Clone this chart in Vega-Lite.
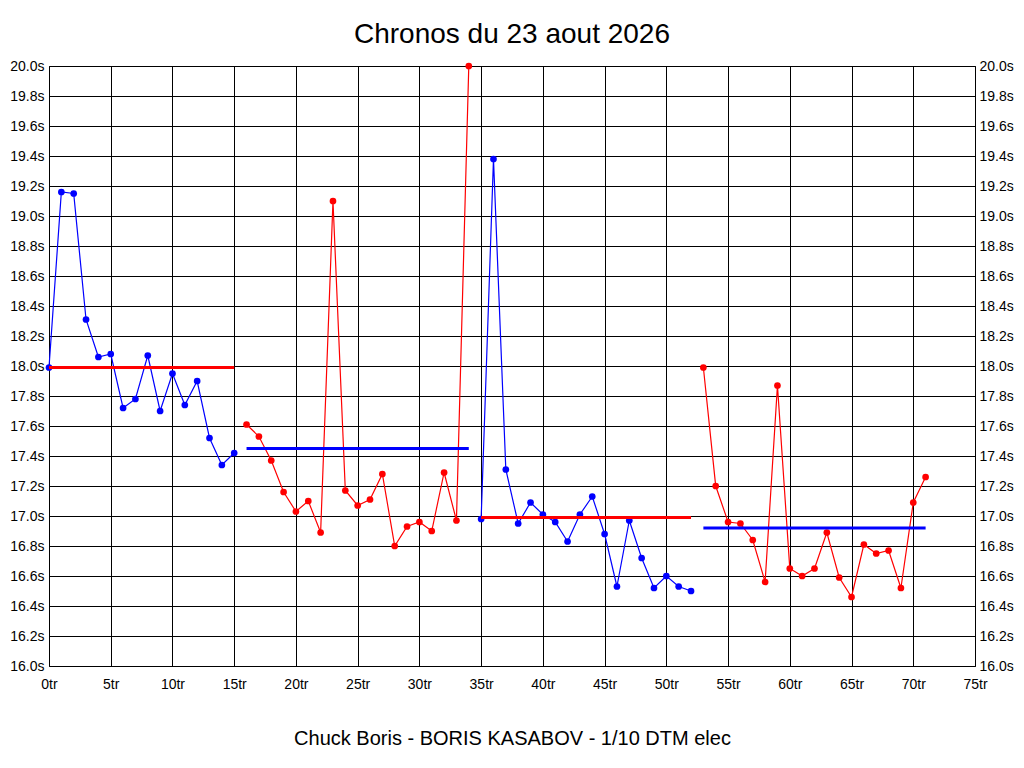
{
  "$schema": "https://vega.github.io/schema/vega-lite/v6.json",
  "description": "Chronos par tour, 4 series alternees avec la moyenne de chaque serie",
  "width": 926,
  "height": 600,
  "autosize": {"type": "none"},
  "padding": {"left": 49, "top": 66, "right": 49, "bottom": 102},
  "background": "white",
  "title": {
    "text": "Chronos du 23 aout 2026",
    "font": "Liberation Sans",
    "fontSize": 28,
    "fontWeight": "normal",
    "color": "black",
    "anchor": "middle",
    "baseline": "alphabetic",
    "offset": -12
  },
  "datasets": {
    "tours": [
      {"serie": "S1", "tour": 0, "temps": 17.99},
      {"serie": "S1", "tour": 1, "temps": 19.16},
      {"serie": "S1", "tour": 2, "temps": 19.15},
      {"serie": "S1", "tour": 3, "temps": 18.31},
      {"serie": "S1", "tour": 4, "temps": 18.06},
      {"serie": "S1", "tour": 5, "temps": 18.08},
      {"serie": "S1", "tour": 6, "temps": 17.72},
      {"serie": "S1", "tour": 7, "temps": 17.78},
      {"serie": "S1", "tour": 8, "temps": 18.07},
      {"serie": "S1", "tour": 9, "temps": 17.70},
      {"serie": "S1", "tour": 10, "temps": 17.95},
      {"serie": "S1", "tour": 11, "temps": 17.74},
      {"serie": "S1", "tour": 12, "temps": 17.90},
      {"serie": "S1", "tour": 13, "temps": 17.52},
      {"serie": "S1", "tour": 14, "temps": 17.34},
      {"serie": "S1", "tour": 15, "temps": 17.42},
      {"serie": "S2", "tour": 16, "temps": 17.61},
      {"serie": "S2", "tour": 17, "temps": 17.53},
      {"serie": "S2", "tour": 18, "temps": 17.37},
      {"serie": "S2", "tour": 19, "temps": 17.16},
      {"serie": "S2", "tour": 20, "temps": 17.03},
      {"serie": "S2", "tour": 21, "temps": 17.10},
      {"serie": "S2", "tour": 22, "temps": 16.89},
      {"serie": "S2", "tour": 23, "temps": 19.10},
      {"serie": "S2", "tour": 24, "temps": 17.17},
      {"serie": "S2", "tour": 25, "temps": 17.07},
      {"serie": "S2", "tour": 26, "temps": 17.11},
      {"serie": "S2", "tour": 27, "temps": 17.28},
      {"serie": "S2", "tour": 28, "temps": 16.80},
      {"serie": "S2", "tour": 29, "temps": 16.93},
      {"serie": "S2", "tour": 30, "temps": 16.96},
      {"serie": "S2", "tour": 31, "temps": 16.90},
      {"serie": "S2", "tour": 32, "temps": 17.29},
      {"serie": "S2", "tour": 33, "temps": 16.97},
      {"serie": "S2", "tour": 34, "temps": 20.00},
      {"serie": "S3", "tour": 35, "temps": 16.98},
      {"serie": "S3", "tour": 36, "temps": 19.38},
      {"serie": "S3", "tour": 37, "temps": 17.31},
      {"serie": "S3", "tour": 38, "temps": 16.95},
      {"serie": "S3", "tour": 39, "temps": 17.09},
      {"serie": "S3", "tour": 40, "temps": 17.01},
      {"serie": "S3", "tour": 41, "temps": 16.96},
      {"serie": "S3", "tour": 42, "temps": 16.83},
      {"serie": "S3", "tour": 43, "temps": 17.01},
      {"serie": "S3", "tour": 44, "temps": 17.13},
      {"serie": "S3", "tour": 45, "temps": 16.88},
      {"serie": "S3", "tour": 46, "temps": 16.53},
      {"serie": "S3", "tour": 47, "temps": 16.97},
      {"serie": "S3", "tour": 48, "temps": 16.72},
      {"serie": "S3", "tour": 49, "temps": 16.52},
      {"serie": "S3", "tour": 50, "temps": 16.60},
      {"serie": "S3", "tour": 51, "temps": 16.53},
      {"serie": "S3", "tour": 52, "temps": 16.50},
      {"serie": "S4", "tour": 53, "temps": 17.99},
      {"serie": "S4", "tour": 54, "temps": 17.20},
      {"serie": "S4", "tour": 55, "temps": 16.96},
      {"serie": "S4", "tour": 56, "temps": 16.95},
      {"serie": "S4", "tour": 57, "temps": 16.84},
      {"serie": "S4", "tour": 58, "temps": 16.56},
      {"serie": "S4", "tour": 59, "temps": 17.87},
      {"serie": "S4", "tour": 60, "temps": 16.65},
      {"serie": "S4", "tour": 61, "temps": 16.60},
      {"serie": "S4", "tour": 62, "temps": 16.65},
      {"serie": "S4", "tour": 63, "temps": 16.89},
      {"serie": "S4", "tour": 64, "temps": 16.59},
      {"serie": "S4", "tour": 65, "temps": 16.46},
      {"serie": "S4", "tour": 66, "temps": 16.81},
      {"serie": "S4", "tour": 67, "temps": 16.75},
      {"serie": "S4", "tour": 68, "temps": 16.77},
      {"serie": "S4", "tour": 69, "temps": 16.52},
      {"serie": "S4", "tour": 70, "temps": 17.09},
      {"serie": "S4", "tour": 71, "temps": 17.26}
    ],
    "moyennes": [
      {"serie": "S1", "tour": 0, "tour_fin": 15, "temps": 17.99},
      {"serie": "S2", "tour": 16, "tour_fin": 34, "temps": 17.45},
      {"serie": "S3", "tour": 35, "tour_fin": 52, "temps": 16.99},
      {"serie": "S4", "tour": 53, "tour_fin": 71, "temps": 16.92}
    ]
  },
  "encoding": {
    "x": {
      "field": "tour",
      "type": "quantitative",
      "scale": {"domain": [0, 75], "nice": false, "zero": false},
      "axis": {
        "values": [0, 5, 10, 15, 20, 25, 30, 35, 40, 45, 50, 55, 60, 65, 70, 75],
        "labelExpr": "datum.value + 'tr'",
        "labelFlush": false,
        "labelOverlap": false,
        "labelPadding": 11,
        "ticks": false,
        "domain": false,
        "grid": true,
        "title": "Chuck Boris - BORIS KASABOV - 1/10 DTM elec",
        "titleFontSize": 20,
        "titleFontWeight": "normal",
        "titleBaseline": "alphabetic",
        "titleY": 78
      }
    }
  },
  "layer": [
    {
      "data": {"name": "tours"},
      "encoding": {
        "y": {
          "field": "temps",
          "type": "quantitative",
          "scale": {"domain": [16, 20], "nice": false, "zero": false},
          "axis": {
            "orient": "left",
            "values": [16, 16.2, 16.4, 16.6, 16.8, 17, 17.2, 17.4, 17.6, 17.8, 18, 18.2, 18.4, 18.6, 18.8, 19, 19.2, 19.4, 19.6, 19.8, 20],
            "labelExpr": "format(datum.value, '.1f') + 's'",
            "labelPadding": 5,
            "labelFlush": false,
            "labelOverlap": false,
            "ticks": false,
            "domain": false,
            "grid": true,
            "title": null
          }
        },
        "color": {
          "field": "serie",
          "type": "nominal",
          "scale": {"domain": ["S1", "S2", "S3", "S4"], "range": ["#0000ff", "#ff0000", "#0000ff", "#ff0000"]},
          "legend": null
        }
      },
      "layer": [
        {"mark": {"type": "line", "strokeWidth": 1.2}},
        {"mark": {"type": "circle", "size": 45, "opacity": 1}}
      ]
    },
    {
      "data": {"name": "moyennes"},
      "mark": {"type": "rule", "strokeWidth": 3},
      "encoding": {
        "x2": {"field": "tour_fin"},
        "y": {
          "field": "temps",
          "type": "quantitative",
          "scale": {"domain": [16, 20], "nice": false, "zero": false},
          "axis": {
            "orient": "right",
            "values": [16, 16.2, 16.4, 16.6, 16.8, 17, 17.2, 17.4, 17.6, 17.8, 18, 18.2, 18.4, 18.6, 18.8, 19, 19.2, 19.4, 19.6, 19.8, 20],
            "labelExpr": "format(datum.value, '.1f') + 's'",
            "labelPadding": 4,
            "labelFlush": false,
            "labelOverlap": false,
            "ticks": false,
            "domain": false,
            "grid": false,
            "title": null
          }
        },
        "color": {
          "field": "serie",
          "type": "nominal",
          "scale": {"domain": ["S1", "S2", "S3", "S4"], "range": ["#ff0000", "#0000ff", "#ff0000", "#0000ff"]},
          "legend": null
        }
      }
    }
  ],
  "resolve": {"scale": {"color": "independent"}, "axis": {"y": "independent"}},
  "config": {
    "font": "Liberation Sans",
    "view": {"stroke": "black", "strokeWidth": 1},
    "axis": {
      "labelFont": "Liberation Sans",
      "labelFontSize": 14,
      "labelColor": "black",
      "titleFont": "Liberation Sans",
      "titleColor": "black",
      "gridColor": "black",
      "gridOpacity": 1,
      "gridWidth": 1
    }
  }
}
